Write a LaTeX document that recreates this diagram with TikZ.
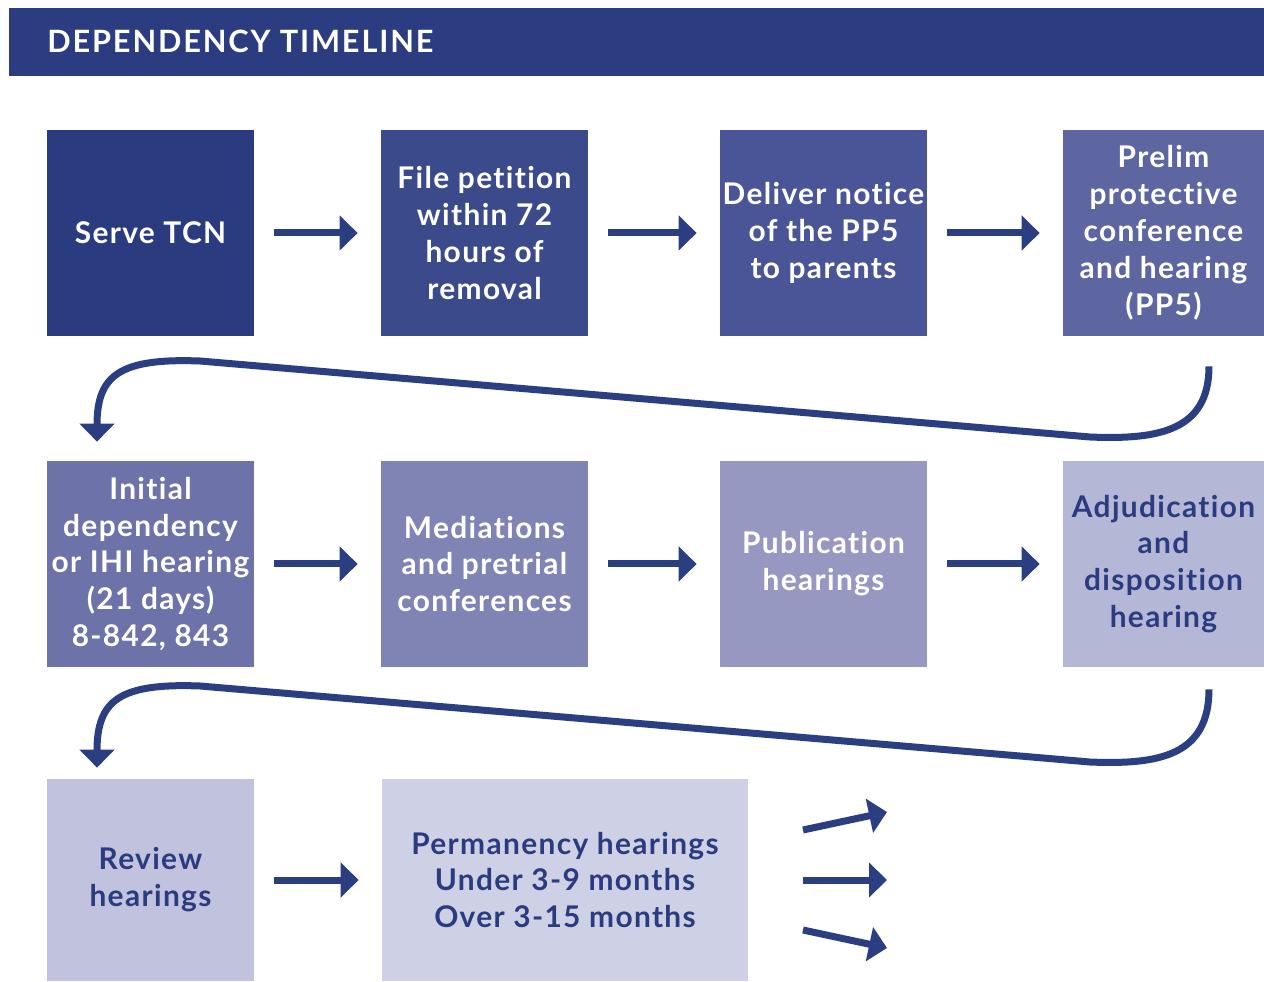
\documentclass[tikz,border=0pt]{standalone}
\usepackage{fontspec}
\setmainfont{Lato}[Ligatures=NoCommon]
\usetikzlibrary{arrows.meta}
\definecolor{colHead}{HTML}{2B3D80}
\definecolor{colArr}{HTML}{2B3E82}
\definecolor{colA}{HTML}{2B3B7F}
\definecolor{colB}{HTML}{3A4A8B}
\definecolor{colC}{HTML}{4A5597}
\definecolor{colD}{HTML}{5D66A0}
\definecolor{colE}{HTML}{6D72A8}
\definecolor{colF}{HTML}{8084B5}
\definecolor{colG}{HTML}{9698C2}
\definecolor{colH}{HTML}{B5B7D7}
\definecolor{colI}{HTML}{C0C2DE}
\definecolor{colJ}{HTML}{CED1E5}
\newcommand{\boxfont}{\bfseries\fontsize{17}{21}\selectfont\addfontfeatures{LetterSpace=4.5}}
\newcommand{\titlefont}{\bfseries\fontsize{17.5}{20}\selectfont\addfontfeatures{LetterSpace=6}}
\tikzstyle{stage}=[rectangle, minimum width=4.14cm, minimum height=4.12cm, inner sep=0pt, align=center, font=\boxfont, text=white]
\tikzstyle{pale}=[stage, text=colA]
\tikzstyle{flow}=[line width=0.14cm, colArr, -{Triangle[length=0.36cm,width=0.68cm]}]
\tikzstyle{nextflow}=[flow, shorten <=0.4cm, shorten >=0.46cm]

\begin{document}
\begin{tikzpicture}[x=0.02cm,y=-0.02cm]
	\useasboundingbox (0,0) rectangle (1264,982);
	\node[fill=colHead, minimum width=25.1cm, minimum height=1.36cm, inner sep=0pt] (head) at (636.5,42) {};
	\node[anchor=base west, text=white, font=\titlefont, inner sep=0pt] (title) at (47,53) {DEPENDENCY TIMELINE};
	% first row
	\node[stage, fill=colA] (b1) at (150.5,233) {Serve TCN};
	\node[stage, fill=colB] (b2) at (484.5,233) {File petition\\within 72\\hours of\\removal};
	\node[stage, fill=colC] (b3) at (823.5,233) {Deliver notice\\of the PP5\\to parents};
	\node[stage, fill=colD, minimum width=4.02cm] (b4) at (1163.5,233) {Prelim\\protective\\conference\\and hearing\\(PP5)};
	% second row
	\node[stage, fill=colE] (b5) at (150.5,564) {Initial\\dependency\\or IHI hearing\\(21 days)\\8-842, 843};
	\node[stage, fill=colF] (b6) at (484.5,564) {Mediations\\and pretrial\\conferences};
	\node[stage, fill=colG] (b7) at (823.5,564) {Publication\\hearings};
	\node[pale, fill=colH, minimum width=4.02cm] (b8) at (1163.5,564) {Adjudication\\and\\disposition\\hearing};
	% third row
	\node[pale, fill=colI, minimum height=4.04cm] (b9) at (150.5,880) {Review\\hearings};
	\node[pale, fill=colJ, minimum width=7.32cm, minimum height=4.04cm] (b10) at (565,880) {Permanency hearings\\Under 3-9 months\\Over 3-15 months};
	\draw[nextflow] (b1)--(b2);
	\draw[nextflow] (b2)--(b3);
	\draw[nextflow] (b3)--(b4);
	\draw[nextflow] (b5)--(b6);
	\draw[nextflow] (b6)--(b7);
	\draw[nextflow] (b7)--(b8);
	\draw[nextflow] (b9)--(b10);
	% turn arrows
	\coordinate (t1s) at ([xshift=0.91cm,yshift=-0.6cm]b4.south);
	\coordinate (t1e) at ([xshift=-1.07cm,yshift=0.38cm]b5.north);
	\coordinate (t2s) at ([xshift=0.91cm,yshift=-0.44cm]b8.south);
	\coordinate (t2e) at ([xshift=-1.07cm,yshift=0.22cm]b9.north);
	\draw[flow] (t1s) .. controls (1209,430) and (1160,440) .. (1090,437) -- (200,361) .. controls (120,358) and (97,375) .. (t1e);
	\draw[flow] (t2s) .. controls (1209,755) and (1160,765) .. (1090,762) -- (200,686) .. controls (120,683) and (97,700) .. (t2e);
	% outcomes
	\coordinate (o1s) at (803,830);
	\coordinate (o1e) at (887,812);
	\coordinate (o2s) at (803,880);
	\coordinate (o2e) at (887,880);
	\coordinate (o3s) at (803,930);
	\coordinate (o3e) at (887,948);
	\draw[flow] (o1s)--(o1e);
	\draw[flow] (o2s)--(o2e);
	\draw[flow] (o3s)--(o3e);
\end{tikzpicture}
\end{document}
